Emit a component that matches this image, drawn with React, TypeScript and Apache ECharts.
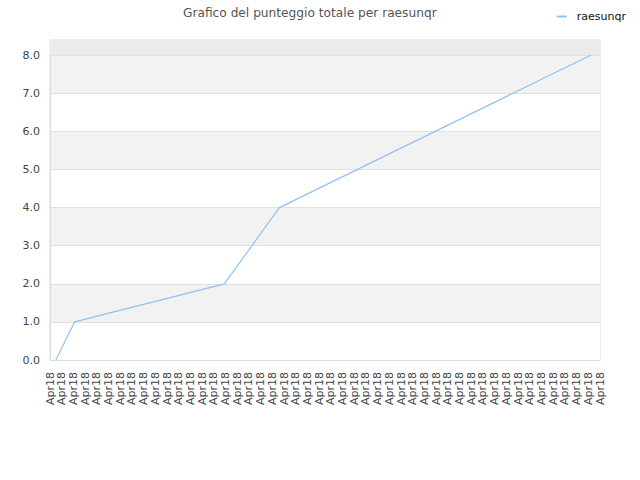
import { useEffect, useRef } from 'react'
import * as echarts from 'echarts'

// 48 date labels along the bottom, all the same
const dateLabels: string[] = Array(48).fill('Apr18')

// line kinks: position on the label scale (0..47) and total score
const pointPos = [0.5, 2.1, 14.9, 19.6, 46.2]
const scores = [0, 1, 2, 4, 8]

const seriesName = 'raesunqr'
const titleText = 'Grafico del punteggio totale per raesunqr'

const lineColor = '#8fc1f5'
const font = 'DejaVu Sans'

export default function App() {
  const chartRef = useRef<HTMLDivElement>(null)

  useEffect(() => {
    if (!chartRef.current) return
    document.body.style.margin = '0'
    const chart = echarts.init(chartRef.current, null, { renderer: 'svg' })

    const option = {
      animation: false,
      title: {
        text: titleText,
        left: 178,
        top: 2,
        textStyle: {
          fontFamily: font,
          fontSize: 12.2,
          fontWeight: 'normal',
          color: '#555',
        },
      },
      legend: {
        right: 9,
        top: 6,
        itemWidth: 10,
        itemHeight: 2,
        itemGap: 10,
        icon: 'rect',
        textStyle: { fontFamily: font, fontSize: 11, color: '#111', padding: [0, 0, 0, 5] },
        data: [seriesName],
      },
      grid: {
        left: 50,
        right: 40,
        top: 40,
        bottom: 120,
        show: true,
        borderColor: '#dcdcdc',
        borderWidth: 1,
      },
      xAxis: [
        {
          type: 'category',
          data: dateLabels,
          boundaryGap: false,
          axisLine: { lineStyle: { color: '#dcdcdc' } },
          axisTick: { show: false },
          axisLabel: {
            rotate: 90,
            interval: 0,
            margin: 12,
            fontFamily: font,
            fontSize: 11,
            color: '#444',
          },
        },
        {
          type: 'value',
          min: 0,
          max: dateLabels.length - 1,
          show: false,
        },
      ],
      yAxis: {
        type: 'value',
        min: 0,
        max: 8.4,
        interval: 1,
        axisLine: { show: true, lineStyle: { color: '#dcdcdc' } },
        axisTick: { show: false },
        axisLabel: {
          margin: 10,
          fontFamily: font,
          fontSize: 11,
          color: '#444',
          showMaxLabel: false,
          formatter: (v: number) => (Number.isInteger(v) ? v.toFixed(1) : ''),
        },
        splitLine: { lineStyle: { color: '#e0e0e0' } },
        splitArea: { show: true, areaStyle: { color: ['#ffffff', '#f2f2f2'] } },
      },
      series: [
        {
          name: seriesName,
          type: 'line',
          xAxisIndex: 1,
          data: pointPos.map((p, i) => [p, scores[i]]),
          symbol: 'none',
          lineStyle: { color: lineColor, width: 1.2 },
          itemStyle: { color: lineColor },
          markArea: {
            silent: true,
            itemStyle: { color: '#ebebeb' },
            data: [[{ yAxis: 8 }, { yAxis: 8.4 }]],
          },
          z: 3,
        },
      ],
    }

    chart.setOption(option)

    return () => {
      chart.dispose()
    }
  }, [])

  return <div ref={chartRef} style={{ width: 640, height: 480 }} />
}
